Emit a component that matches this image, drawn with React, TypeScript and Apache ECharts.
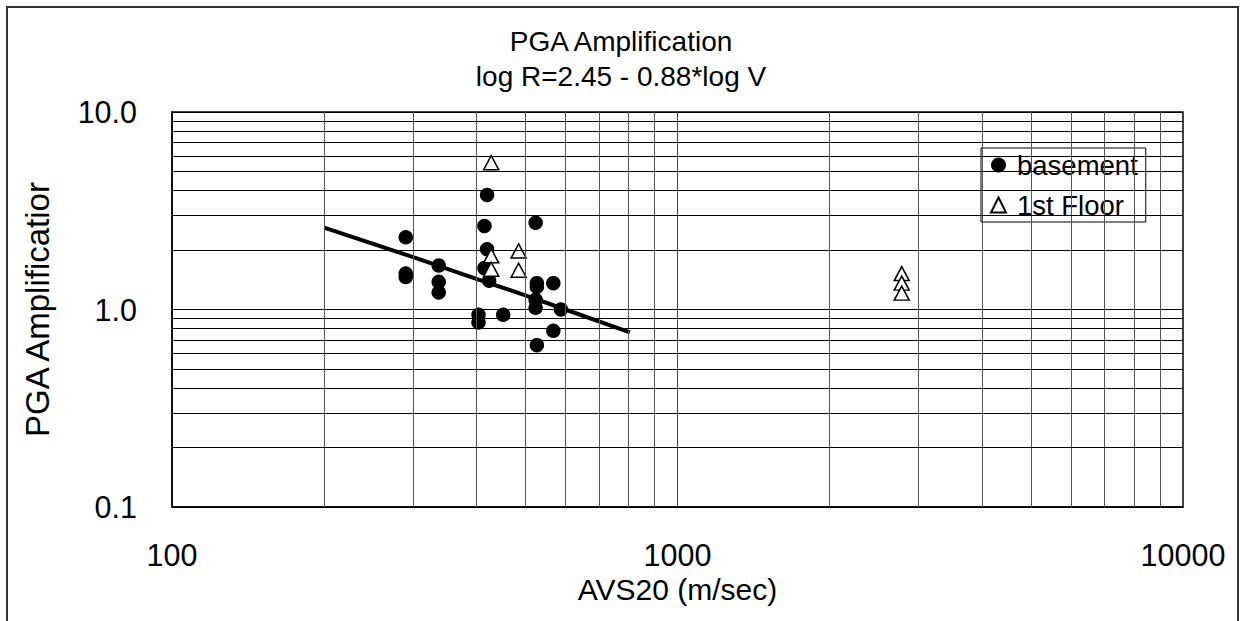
import React, { useEffect, useRef } from 'react';
import * as echarts from 'echarts';

const FONT = '"Liberation Sans", Arial, sans-serif';

const titleLines = ['PGA Amplification', 'log R=2.45 - 0.88*log V'];
const xAxisName = 'AVS20 (m/sec)';
const yAxisName = 'PGA Amplificatior';
const seriesNames = ['basement', '1st Floor'];

// minor grid positions (log decades 2..9)
const xMinorGrid = [200, 300, 400, 500, 600, 700, 800, 900, 2000, 3000, 4000, 5000, 6000, 7000, 8000, 9000];
const yMinorGrid = [0.2, 0.3, 0.4, 0.5, 0.6, 0.7, 0.8, 0.9, 2, 3, 4, 5, 6, 7, 8, 9];

// basement: [AVS20, amplification]
const basement: [number, number][] = [
  [290, 2.32], [290, 1.52], [290, 1.46],
  [337, 1.67], [337, 1.38], [337, 1.22],
  [420, 3.8], [415, 2.65], [420, 2.02], [415, 1.62], [424, 1.4],
  [404, 0.94], [404, 0.86], [452, 0.94],
  [524, 2.75], [527, 1.36], [527, 1.3], [524, 1.12], [524, 1.02], [527, 0.66],
  [568, 1.36], [588, 1.0], [568, 0.78],
];

// 1st floor
const firstFloor: [number, number][] = [
  [428, 5.54], [428, 1.87], [428, 1.6],
  [485, 1.98], [485, 1.58],
  [2777, 1.52], [2777, 1.36], [2777, 1.21],
];

// regression line log R = 2.45 - 0.88 log V (as drawn)
const regression: [number, number][] = [
  [200, 2.6], [300, 1.84], [400, 1.43], [500, 1.18], [600, 1.0], [805, 0.765],
];

export default function App() {
  const ref = useRef<HTMLDivElement>(null);
  useEffect(() => {
    const chart = echarts.init(ref.current!, null, { renderer: 'svg' });
    const option: any = {
      animation: false,
      backgroundColor: '#fff',
      textStyle: { fontFamily: FONT, color: '#000' },
      title: [
        {
          text: titleLines[0], left: 'center', top: 27, padding: 0,
          textStyle: { fontSize: 28, fontWeight: 'normal', color: '#000', fontFamily: FONT },
        },
        {
          text: titleLines[1], left: 'center', top: 62, padding: 0,
          textStyle: { fontSize: 28, fontWeight: 'normal', color: '#000', fontFamily: FONT },
        },
      ],
      graphic: [
        {
          type: 'rect', silent: true, z: 100,
          shape: { x: 7, y: 7, width: 1231, height: 660 },
          style: { fill: 'none', stroke: '#333', lineWidth: 2 },
        },
      ],
      legend: {
        data: seriesNames,
        orient: 'vertical',
        left: 981,
        top: 148,
        padding: [3, 8, 3, 9],
        itemGap: 12,
        itemWidth: 15,
        itemHeight: 15,
        backgroundColor: '#fff',
        borderColor: '#000',
        borderWidth: 1,
        borderRadius: 0,
        textStyle: { fontSize: 27.5, color: '#000', lineHeight: 28, padding: [0, 0, 0, 6], fontFamily: FONT },
      },
      grid: {
        left: 172, right: 59, top: 112, bottom: 114,
        show: true, borderColor: '#000', borderWidth: 1.5, backgroundColor: 'transparent',
      },
      xAxis: {
        type: 'log', logBase: 10, min: 100, max: 10000,
        name: xAxisName, nameLocation: 'middle', nameGap: 63,
        nameTextStyle: { fontSize: 30, color: '#000', fontFamily: FONT },
        axisLine: { show: true, lineStyle: { color: '#000', width: 1.5 } },
        axisTick: { show: false },
        axisLabel: {
          fontSize: 30.5, color: '#000', margin: 32, fontFamily: FONT,
          formatter: (v: number) => String(Math.round(v)),
        },
        splitLine: { show: true, lineStyle: { color: '#444', width: 1 } },
      },
      yAxis: {
        type: 'log', logBase: 10, min: 0.1, max: 10,
        name: yAxisName, nameLocation: 'middle', nameGap: 118, nameRotate: 90,
        nameTextStyle: { fontSize: 33, color: '#000', fontFamily: FONT },
        axisLine: { show: true, lineStyle: { color: '#000', width: 1.5 } },
        axisTick: { show: false },
        axisLabel: {
          fontSize: 30.5, color: '#000', margin: 35, fontFamily: FONT,
          formatter: (v: number) => Number(v).toFixed(1),
        },
        splitLine: { show: true, lineStyle: { color: '#000', width: 1 } },
      },
      series: [
        {
          type: 'line', data: [], z: 1, silent: true,
          markLine: {
            silent: true, symbol: ['none', 'none'], label: { show: false },
            lineStyle: { color: '#000', width: 1, type: 'solid' },
            emphasis: { disabled: true },
            data: [
              ...xMinorGrid.map((v) => ({ xAxis: v, lineStyle: { color: '#555', width: 1, type: 'solid' } })),
              ...yMinorGrid.map((v) => ({ yAxis: v, lineStyle: { color: '#000', width: 1, type: 'solid' } })),
            ],
          },
        },
        {
          type: 'line', data: regression, z: 2, showSymbol: false, symbol: 'none',
          lineStyle: { color: '#000', width: 4 }, silent: true,
        },
        {
          name: seriesNames[0], type: 'scatter', data: basement, z: 3,
          symbol: 'circle', symbolSize: 14.5,
          itemStyle: { color: '#000', opacity: 1 },
        },
        {
          name: seriesNames[1], type: 'scatter', data: firstFloor, z: 4,
          symbol: 'triangle', symbolSize: [15, 14],
          itemStyle: { color: '#fff', borderColor: '#000', borderWidth: 1.5, opacity: 1 },
        },
      ],
    };
    chart.setOption(option);
    return () => chart.dispose();
  }, []);
  return (
    <div
      ref={ref}
      style={{ position: 'fixed', left: 0, top: 0, width: 1242, height: 621, background: '#fff' }}
    />
  );
}
